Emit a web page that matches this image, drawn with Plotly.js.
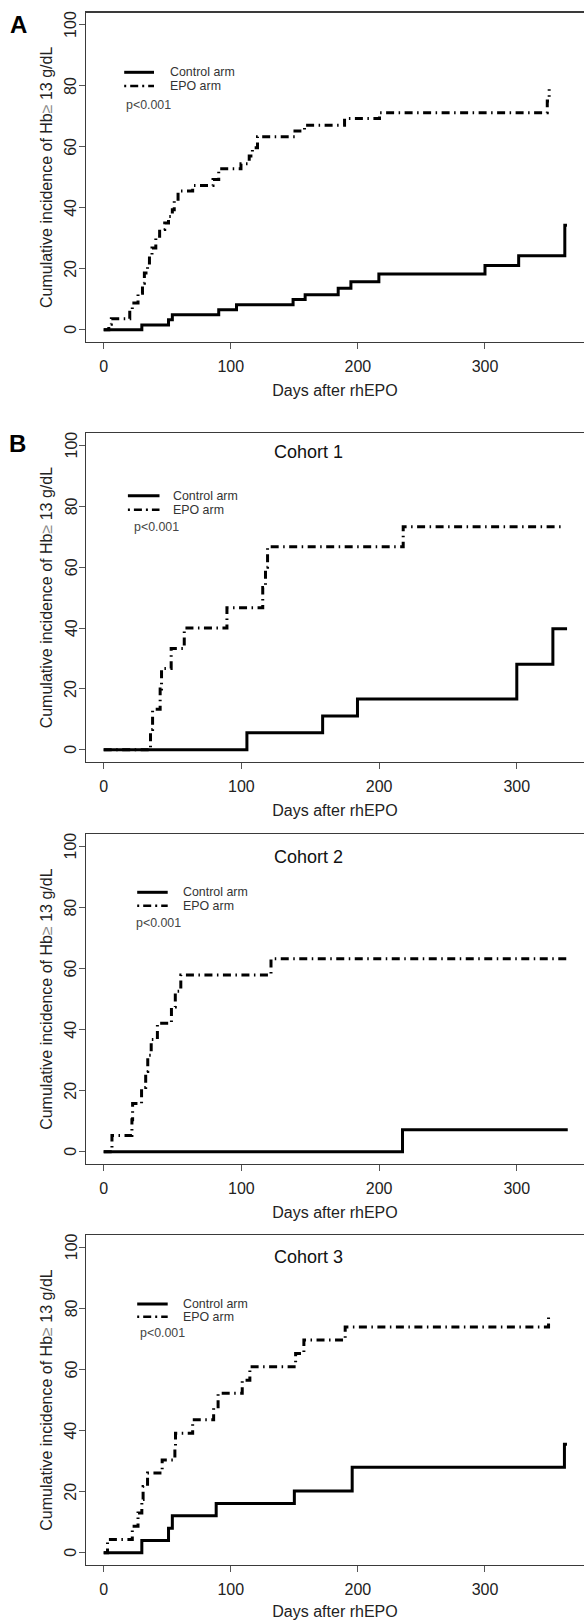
<!DOCTYPE html>
<html>
<head>
<meta charset="utf-8">
<script src="https://cdn.plot.ly/plotly-3.0.1.min.js"></script>
<style>
  html, body { margin: 0; padding: 0; background: #fff; overflow: hidden; }
  #chart { width: 584px; height: 1620px; }
</style>
</head>
<body>
<div id="chart"></div>
<script>
// ---------------- DATA ----------------
const panelLabels = ["A", "B", "", ""];
const cohortTitles = ["", "Cohort 1", "Cohort 2", "Cohort 3"];
const seriesNames = ["Control arm", "EPO arm"];
const pValueText = "p<0.001";
const xTickVals = [0, 100, 200, 300];
const yTickVals = [0, 20, 40, 60, 80, 100];

// Panel A (all patients)
const daysA_control = [0, 30, 51, 54, 90.5, 104.5, 149, 158.5, 184.5, 194.5, 216.5, 300, 326.5, 362.8, 364.5];
const cumA_control  = [0, 1.6, 3.3, 4.9, 6.6, 8.2, 9.9, 11.5, 13.6, 15.8, 18.3, 21.1, 24.3, 34.3, 34.3];
const daysA_epo = [0, 4, 6, 20.5, 22.5, 27, 30.5, 32, 34.5, 36, 38, 41, 44, 48, 51, 54, 55.5, 58.5, 70, 86, 90.5, 108, 114.5, 117, 121, 150.5, 158, 189.5, 217, 349, 350.5];
const cumA_epo  = [0, 1.8, 3.6, 6.6, 8.8, 12.0, 15.3, 18.6, 21.9, 24.6, 26.8, 30.7, 32.9, 35.0, 37.2, 39.4, 42.2, 45.5, 47.3, 49.3, 52.8, 54.5, 57.0, 59.7, 63.3, 65.2, 67.1, 69.3, 71.2, 75.0, 78.9];

// Panel B – Cohort 1
const daysC1_control = [0, 104, 159, 184.3, 300, 326.2, 336.5];
const cumC1_control  = [0, 5.6, 11.1, 16.7, 28.1, 39.8, 39.8];
const daysC1_epo = [0, 34, 35.5, 41, 42, 49, 58.5, 89.5, 115.5, 117.5, 119, 217.5, 334];
const cumC1_epo  = [0, 6.7, 13.3, 20.0, 26.7, 33.3, 40.0, 46.7, 53.3, 60.0, 66.7, 73.3, 73.3];

// Cohort 2
const daysC2_control = [0, 217, 337];
const cumC2_control  = [0, 7.2, 7.2];
const daysC2_epo = [0, 6, 20.5, 21, 27.5, 30.5, 32, 34.5, 39, 49.2, 52, 56, 121.5, 337];
const cumC2_epo  = [0, 5.3, 10.5, 15.8, 21.1, 26.3, 31.6, 36.8, 42.1, 47.4, 52.6, 57.9, 63.2, 63.2];

// Cohort 3
const daysC3_control = [0, 30, 51, 54, 88.5, 150, 195.5, 362.5, 364.5];
const cumC3_control  = [0, 4.0, 8.0, 12.1, 16.1, 20.2, 28.0, 35.5, 35.5];
const daysC3_epo = [0, 3, 22.5, 27, 30, 31, 34.5, 46, 56, 56.5, 70, 86.5, 90, 109, 115, 151, 157.5, 190, 350];
const cumC3_epo  = [0, 4.35, 8.7, 13.0, 17.4, 21.7, 26.1, 30.4, 34.8, 39.1, 43.5, 47.8, 52.2, 56.5, 60.9, 65.2, 69.6, 73.9, 78.3];

// ---------------- LAYOUT GEOMETRY (pixels) ----------------
const W = 584, H = 1620;
const px = v => v / W;
const py = v => 1 - v / H;
const FONT = '"Liberation Sans", Arial, Helvetica, sans-serif';
const EPO_DASH = "8px,4.5px,1.5px,4.5px";

const panels = [
  { xs: [daysA_control, daysA_epo],   ys: [cumA_control, cumA_epo],   top: 12.7,  bottom: 342,  xr: [-13.93, 377.9],
    leg: { l0: 124.2, l1: 154, tx: 167.7, y1: 72.3, y2: 86, ptx: 124.2, py: 105.3 }, lab: { x: 18.8, y: 25 } },
  { xs: [daysC1_control, daysC1_epo], ys: [cumC1_control, cumC1_epo], top: 433.3, bottom: 762,  xr: [-12.85, 348.8],
    leg: { l0: 127.9, l1: 159.5, tx: 171.4, y1: 495.7, y2: 509.7, ptx: 132.3, py: 526.7 }, lab: { x: 17.6, y: 443.8 }, title: { x: 309, y: 451.7 } },
  { xs: [daysC2_control, daysC2_epo], ys: [cumC2_control, cumC2_epo], top: 834.3, bottom: 1164, xr: [-12.85, 348.8],
    leg: { l0: 137.2, l1: 167.7, tx: 180.7, y1: 892.3, y2: 905.7, ptx: 134.3, py: 922.7 }, title: { x: 309, y: 856.7 } },
  { xs: [daysC3_control, daysC3_epo], ys: [cumC3_control, cumC3_epo], top: 1235,  bottom: 1565, xr: [-13.93, 377.9],
    leg: { l0: 137.2, l1: 167.7, tx: 180.7, y1: 1304, y2: 1316.7, ptx: 138, py: 1333.3 }, title: { x: 309, y: 1256.7 } }
];

const data = [];
const layout = {
  width: W, height: H,
  margin: { l: 0, r: 0, t: 0, b: 0, pad: 0 },
  paper_bgcolor: "#fff", plot_bgcolor: "#fff",
  showlegend: false,
  font: { family: FONT, color: "#222", size: 16 },
  shapes: [], annotations: []
};

panels.forEach((p, i) => {
  const n = i === 0 ? "" : String(i + 1);
  const xa = "x" + n, ya = "y" + n;
  data.push({ type: "scatter", mode: "lines", name: seriesNames[0], x: p.xs[0], y: p.ys[0],
    xaxis: xa, yaxis: ya, line: { shape: "hv", color: "#000", width: 3 }, hoverinfo: "skip" });
  data.push({ type: "scatter", mode: "lines", name: seriesNames[1], x: p.xs[1], y: p.ys[1],
    xaxis: xa, yaxis: ya, line: { shape: "hv", color: "#000", width: 3, dash: EPO_DASH }, hoverinfo: "skip" });

  layout["xaxis" + n] = {
    domain: [px(86), 1], range: p.xr, anchor: ya,
    showline: true, mirror: true, linecolor: "#3a3a3a", linewidth: 1.3,
    ticks: "outside", ticklen: 6, tickwidth: 1, tickcolor: "#555",
    tickvals: xTickVals, showgrid: false, zeroline: false,
    tickfont: { size: 16, color: "#222", family: FONT }, ticklabelstandoff: 3,
    title: { text: "Days after rhEPO", font: { size: 16, color: "#222", family: FONT }, standoff: 11 }
  };
  layout["yaxis" + n] = {
    domain: [py(p.bottom), py(p.top)], range: [-4, 104], anchor: xa,
    showline: true, mirror: false, linecolor: "#3a3a3a", linewidth: 1.3,
    ticks: "outside", ticklen: 6, tickwidth: 1, tickcolor: "#555",
    tickvals: yTickVals, showticklabels: false, showgrid: false, zeroline: false,
    title: { text: 'Cumulative incidence of Hb<span style="color:#8a8a8a">≥</span> 13 g/dL',
             font: { size: 16, color: "#222", family: FONT }, standoff: 22 }
  };

  // y tick labels, rotated (read bottom-to-top), placed on the y scale
  yTickVals.forEach(v => {
    layout.annotations.push({ text: String(v), xref: "paper", yref: ya, x: px(71), y: v,
      textangle: -90, xanchor: "center", yanchor: "middle", showarrow: false,
      font: { family: FONT, size: 16, color: "#222" } });
  });

  const L = p.leg;
  layout.shapes.push({ type: "line", xref: "paper", yref: "paper", x0: px(L.l0), x1: px(L.l1), y0: py(L.y1), y1: py(L.y1),
    line: { color: "#000", width: 3 } });
  layout.shapes.push({ type: "line", xref: "paper", yref: "paper", x0: px(L.l0), x1: px(L.l1), y0: py(L.y2), y1: py(L.y2),
    line: { color: "#000", width: 2.5, dash: "2px,4px,8px,4px" } });
  [[seriesNames[0], L.y1], [seriesNames[1], L.y2]].forEach(([t, yy]) => {
    layout.annotations.push({ text: t, xref: "paper", yref: "paper", x: px(L.tx), y: py(yy),
      xanchor: "left", yanchor: "middle", showarrow: false,
      font: { family: FONT, size: 12.4, color: "#333" } });
  });
  layout.annotations.push({ text: pValueText, xref: "paper", yref: "paper", x: px(L.ptx), y: py(L.py),
    xanchor: "left", yanchor: "middle", showarrow: false,
    font: { family: FONT, size: 12.4, color: "#444" } });

  if (p.lab && panelLabels[i]) {
    layout.annotations.push({ text: "<b>" + panelLabels[i] + "</b>", xref: "paper", yref: "paper",
      x: px(p.lab.x), y: py(p.lab.y), xanchor: "center", yanchor: "middle", showarrow: false,
      font: { family: FONT, size: 24, color: "#000" } });
  }
  if (p.title && cohortTitles[i]) {
    layout.annotations.push({ text: cohortTitles[i], xref: "paper", yref: "paper",
      x: px(p.title.x), y: py(p.title.y), xanchor: "center", yanchor: "middle", showarrow: false,
      font: { family: FONT, size: 18, color: "#111" } });
  }
});

Plotly.newPlot("chart", data, layout, { displayModeBar: false, staticPlot: true });
</script>
</body>
</html>
